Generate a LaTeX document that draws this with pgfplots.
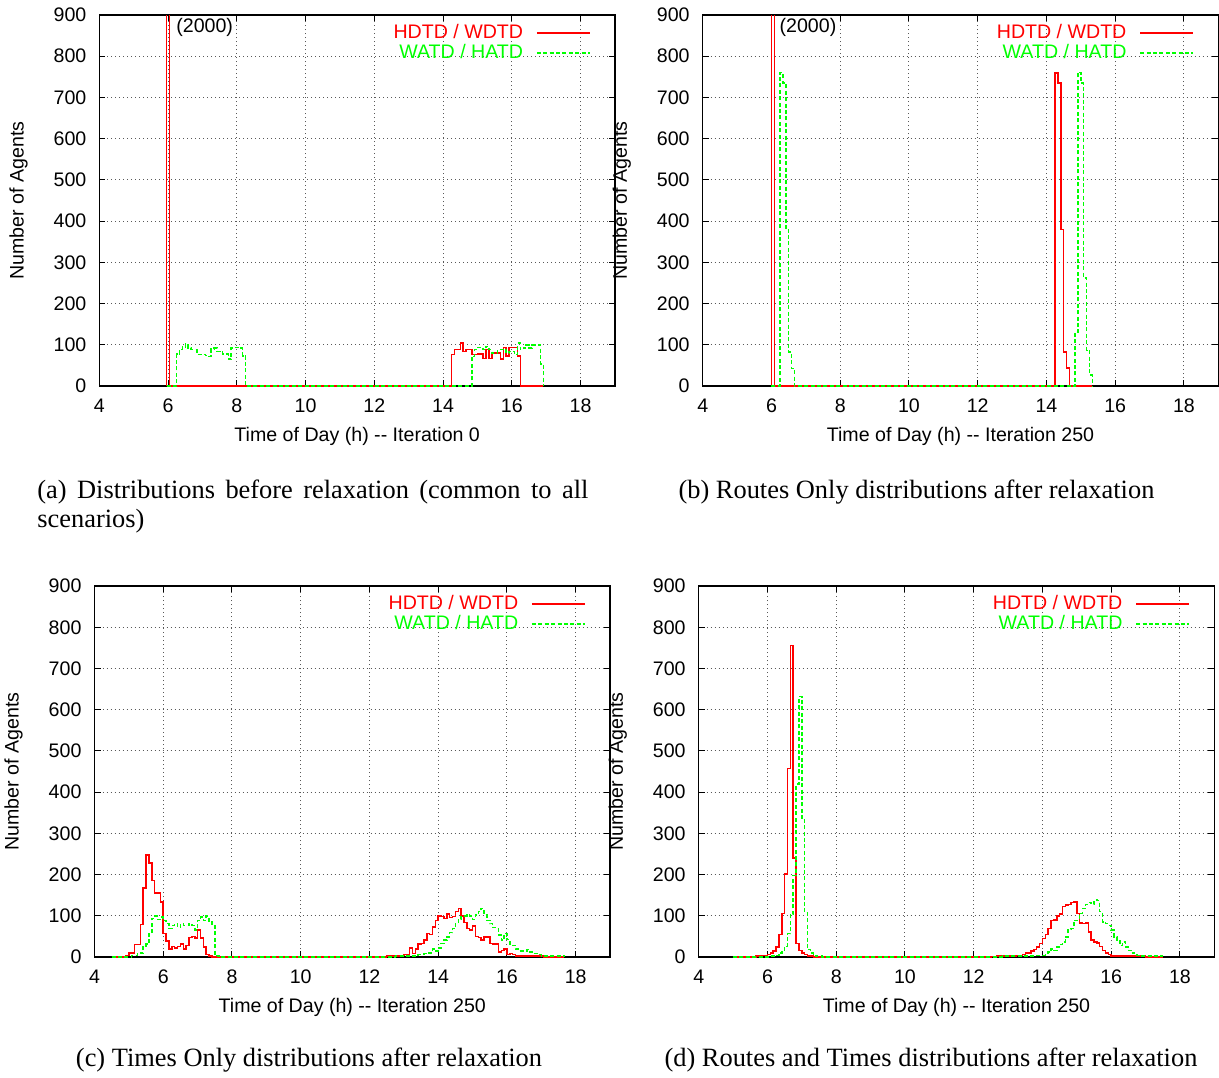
\documentclass[border=0pt]{standalone}
\usepackage{pgfplots}
\pgfplotsset{compat=1.18}
\usepackage{fontspec}
\setmainfont{Liberation Sans}
\newfontfamily\capfont{Liberation Serif}
\definecolor{gred}{RGB}{255,0,0}
\definecolor{ggreen}{RGB}{0,255,0}
\newcommand{\pf}{\fontsize{9.8}{11}\selectfont}
\newcommand{\cf}{\capfont\fontsize{13.2}{14.6}\selectfont}
\pgfplotsset{
  gpaxis/.style={
    scale only axis, width=257.8pt, height=185.5pt,
    xmin=240, xmax=1140, ymin=0, ymax=900,
    xtick={240,360,...,1080}, xticklabels={4,6,8,10,12,14,16,18},
    ytick={0,100,...,900},
    tick pos=both, tick align=inside, major tick length=3pt,
    every tick/.style={black, line width=0.5pt},
    grid=major, grid style={black!65, line width=0.5pt, dash pattern=on 0.5pt off 1.5pt},
    axis line style={line width=0.6pt},
    tick label style={font=\pf},
    /pgf/number format/assume math mode=true,
    yticklabel style={xshift=-3pt},
    xticklabel style={yshift=-3pt},
    every axis x label/.style={at={(axis description cs:0.5,0)}, anchor=center, yshift=-25pt, font=\pf},
    every axis y label/.style={at={(axis description cs:-0.157,0.5)}, anchor=center, rotate=90, font=\pf},
    ylabel={Number of Agents},
    const plot,
    legend cell align=right,
    legend plot pos=right,
    legend image code/.code={\draw[#1] (0pt,0pt) -- (26.5pt,0pt);},
    legend style={draw=none, fill=none, at={(rel axis cs:1,1)}, anchor=north east,
      xshift=-12pt, yshift=-4.35pt, inner sep=0pt, row sep=1pt, column sep=6.5pt,
      nodes={inner sep=0pt, text height=7pt, text depth=2pt, font=\pf}},
  },
  two/.style={after end axis/.append code={\node[anchor=west, font=\pf, text=black] at (axis cs:362,871) {(2000)};}},
}
\begin{document}
\begin{tikzpicture}
\useasboundingbox (0,0) rectangle (609.5pt,-538.5pt);
% (a)
\begin{axis}[gpaxis, two, at={(49.7pt,-193pt)}, anchor=south west,
  xlabel={Time of Day (h) -{}- Iteration 0}]
\addplot[color=gred, line width=0.75pt, solid, mark=none] coordinates {(357.5,0) (357.5,2000) (362.5,0) (855,77) (860,89) (865,89) (870,104) (875,84) (880,89) (885,89) (890,76) (895,76) (900,78) (905,78) (910,67) (915,89) (920,67) (925,80) (930,80) (935,80) (940,65) (945,94) (950,73) (955,94) (960,94) (965,94) (970,73) (975,0) (1015,0)};
\addlegendentry{\textcolor{gred}{HDTD / WDTD}}
\addplot[color=ggreen, line width=0.75pt, dash pattern=on 2pt off 1.2pt, mark=none] coordinates {(357.5,0) (375,78) (380,89) (385,95) (390,102) (395,92) (400,88) (405,88) (410,77) (415,77) (420,76) (425,74) (430,72) (435,90) (440,92) (445,84) (450,84) (455,78) (460,78) (465,65) (470,92) (475,94) (480,94) (485,92) (490,73) (495,0) (890,72) (895,89) (900,94) (905,94) (910,88) (915,96) (920,88) (925,80) (930,80) (935,88) (940,89) (945,89) (950,80) (955,84) (960,84) (965,76) (970,104) (975,88) (980,92) (985,100) (990,92) (995,100) (1000,100) (1005,100) (1010,53) (1015,0)};
\addlegendentry{\textcolor{ggreen}{WATD / HATD}}
\end{axis}
% (b)
\begin{axis}[gpaxis, two, at={(351.35pt,-193pt)}, anchor=south west,
  xlabel={Time of Day (h) -{}- Iteration 250}]
\addplot[color=gred, line width=0.75pt, solid, mark=none] coordinates {(360,0) (360,2000) (365,0) (855,759) (860,735) (865,380) (870,82) (875,44) (880,0) (920,0)};
\addlegendentry{\textcolor{gred}{HDTD / WDTD}}
\addplot[color=ggreen, line width=0.75pt, dash pattern=on 2pt off 1.2pt, mark=none] coordinates {(360,0) (375,760) (380,735) (385,380) (390,82) (395,43) (400,0) (890,130) (895,761) (900,735) (905,262) (910,86) (915,27) (920,0)};
\addlegendentry{\textcolor{ggreen}{WATD / HATD}}
\end{axis}
% (c)
\begin{axis}[gpaxis, at={(47.25pt,-478.5pt)}, anchor=south west,
  xlabel={Time of Day (h) -{}- Iteration 250}]
\addplot[color=gred, line width=0.75pt, solid, mark=none] coordinates {(270,0) (295,4) (300,10) (305,10) (310,30) (315,30) (320,79) (325,168) (330,247) (335,228) (340,186) (345,155) (350,155) (355,134) (360,57) (365,39) (370,20) (375,26) (380,22) (385,25) (390,32) (395,20) (400,28) (405,47) (410,50) (415,46) (420,65) (425,46) (430,24) (435,6) (440,2) (445,0) (750,2) (760,3) (775,4) (780,6) (790,22) (795,8) (800,20) (805,31) (810,33) (815,41) (820,57) (825,55) (830,73) (835,89) (840,99) (845,98) (850,93) (855,104) (860,96) (865,98) (870,110) (875,118) (880,100) (885,84) (890,69) (895,65) (900,75) (905,50) (910,47) (915,41) (920,49) (925,49) (930,33) (935,31) (940,31) (945,12) (950,16) (955,20) (960,6) (965,8) (970,6) (975,3) (980,2) (1025,0) (1060,0)};
\addlegendentry{\textcolor{gred}{HDTD / WDTD}}
\addplot[color=ggreen, line width=0.75pt, dash pattern=on 2pt off 1.2pt, mark=none] coordinates {(270,0) (305,4) (315,10) (325,24) (330,31) (335,57) (340,93) (345,99) (350,91) (355,97) (360,89) (365,81) (370,69) (375,77) (380,81) (385,73) (390,81) (395,77) (400,77) (405,81) (410,77) (415,66) (420,89) (425,97) (430,89) (435,99) (440,87) (445,79) (450,4) (455,2) (460,0) (765,2) (780,3) (805,6) (815,8) (820,10) (830,20) (835,15) (840,22) (845,33) (850,41) (855,49) (860,59) (865,69) (870,81) (875,91) (880,98) (885,99) (890,102) (895,99) (900,91) (905,102) (910,110) (915,118) (920,102) (925,89) (930,81) (935,72) (940,69) (945,53) (950,41) (955,57) (960,42) (965,31) (970,28) (975,20) (980,15) (995,18) (1000,12) (1005,8) (1015,6) (1020,2) (1060,0)};
\addlegendentry{\textcolor{ggreen}{WATD / HATD}}
\end{axis}
% (d)
\begin{axis}[gpaxis, at={(349.35pt,-478.5pt)}, anchor=south west,
  xlabel={Time of Day (h) -{}- Iteration 250}]
\addplot[color=gred, line width=0.75pt, solid, mark=none] coordinates {(300,0) (340,2) (350,4) (360,6) (365,10) (370,15) (375,24) (380,55) (385,105) (390,202) (395,457) (400,756) (405,240) (410,33) (415,16) (420,10) (425,6) (430,2) (440,0) (750,1) (760,2) (795,4) (805,6) (810,10) (820,15) (825,18) (830,24) (835,33) (840,45) (845,55) (850,69) (855,88) (860,90) (865,99) (870,104) (875,122) (880,126) (885,128) (890,132) (895,134) (900,106) (905,83) (910,81) (915,83) (920,61) (925,41) (930,37) (935,34) (940,26) (945,16) (950,10) (955,6) (960,3) (975,2) (1020,0) (1050,0)};
\addlegendentry{\textcolor{gred}{HDTD / WDTD}}
\addplot[color=ggreen, line width=0.75pt, dash pattern=on 2pt off 1.2pt, mark=none] coordinates {(300,0) (365,2) (375,4) (380,10) (385,16) (390,26) (395,57) (400,103) (405,198) (410,420) (415,632) (420,333) (425,107) (430,18) (435,10) (440,4) (445,2) (455,0) (770,2) (830,4) (845,8) (850,12) (855,20) (860,16) (865,24) (870,30) (875,37) (880,49) (885,67) (890,69) (895,89) (905,106) (910,118) (915,128) (920,132) (925,128) (930,138) (935,137) (940,110) (945,85) (950,81) (955,77) (960,65) (965,49) (970,41) (975,28) (980,37) (985,24) (990,16) (995,10) (1000,6) (1005,4) (1010,2) (1050,0)};
\addlegendentry{\textcolor{ggreen}{WATD / HATD}}
\end{axis}
% captions
\node[anchor=base west, inner sep=0pt, font=\cf] at (18.5pt,-249pt) {\hbox to 275.5pt{(a) Distributions before relaxation (common to all}};
\node[anchor=base west, inner sep=0pt, font=\cf] at (18.5pt,-263.5pt) {scenarios)};
\node[anchor=base, inner sep=0pt, font=\cf] at (458.25pt,-249pt) {(b) Routes Only distributions after relaxation};
\node[anchor=base, inner sep=0pt, font=\cf] at (154.5pt,-533pt) {(c) Times Only distributions after relaxation};
\node[anchor=base, inner sep=0pt, font=\cf] at (465.5pt,-533pt) {(d) Routes and Times distributions after relaxation};
\end{tikzpicture}
\end{document}
